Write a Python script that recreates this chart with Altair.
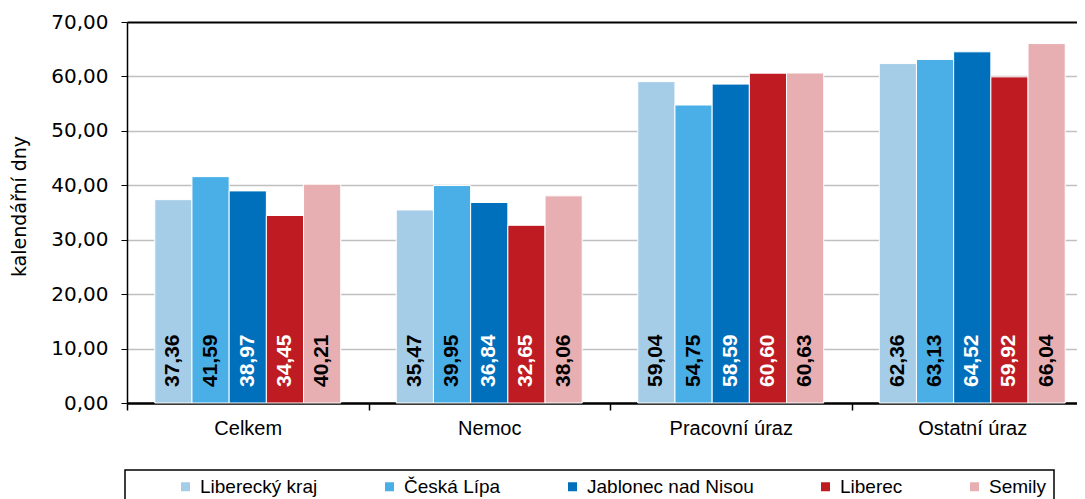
import altair as alt
import pandas as pd

categories = ["Celkem", "Nemoc", "Pracovní úraz", "Ostatní úraz"]
series = ["Liberecký kraj", "Česká Lípa", "Jablonec nad Nisou", "Liberec", "Semily"]
colors = ["#A6CDE8", "#49AFE6", "#0070BD", "#BE1B22", "#E8AFB2"]

liberecky_kraj = [37.36, 35.47, 59.04, 62.36]
ceska_lipa = [41.59, 39.95, 54.75, 63.13]
jablonec = [38.97, 36.84, 58.59, 64.52]
liberec = [34.45, 32.65, 60.60, 59.92]
semily = [40.21, 38.06, 60.63, 66.04]

y_ticks = [0, 10, 20, 30, 40, 50, 60, 70]
title_lines = [
    "Průměrná doba trvání 1 případu dočasné pracovní",
    "neschopnosti v Libereckém kraji a jeho okresech za rok 2020",
]
y_title = "kalendářní dny"
white_text = ["Jablonec nad Nisou", "Liberec"]

rows = []
for s, vals in zip(series, [liberecky_kraj, ceska_lipa, jablonec, liberec, semily]):
    for c, v in zip(categories, vals):
        rows.append({"kategorie": c, "okres": s, "hodnota": v})
df = pd.DataFrame(rows)

PLOT_W = 950          # visible plot width (page is cropped at the right)
BAND_RANGE = 966      # full category range, partly beyond the right edge
HALF_STEP = BAND_RANGE / len(categories) / 2

base = alt.Chart(df).encode(
    x=alt.X(
        "kategorie:N",
        sort=categories,
        scale=alt.Scale(range=[0, BAND_RANGE], paddingInner=0.23, paddingOuter=0.115),
        axis=alt.Axis(
            title=None, labelAngle=0, labelFont="Liberation Sans", labelFontSize=20,
            labelColor="black", labelPadding=8, tickSize=7,
            tickOffset=-HALF_STEP, labelOffset=HALF_STEP,
            tickColor="black", tickWidth=1.5, domainColor="black", domainWidth=2.5,
            grid=False,
        ),
    ),
    xOffset=alt.XOffset("okres:N", sort=series, scale=alt.Scale(paddingInner=0, paddingOuter=0)),
)

bars = base.mark_bar(stroke="white", strokeWidth=1).encode(
    y=alt.Y(
        "hodnota:Q",
        scale=alt.Scale(domain=[0, 70], nice=False),
        axis=alt.Axis(
            values=y_ticks,
            labelExpr="replace(format(datum.value, '.2f'), '.', ',')",
            labelFont="DejaVu Sans", labelFontSize=20, labelColor="black", labelPadding=13,
            tickSize=6, tickColor="black", tickWidth=1,
            domainColor="black", domainWidth=1.5,
            grid=True,
            gridColor={"condition": {"test": "datum.value >= 70", "value": "#000000"}, "value": "#C0C0C0"},
            gridWidth={"condition": {"test": "datum.value >= 70", "value": 2}, "value": 1.5},
            title=y_title, titleFont="DejaVu Sans", titleFontSize=19, titleFontWeight="normal",
            titleColor="black", titleAngle=270, titleX=-108, titleY=184,
            titleAlign="center", titleBaseline="middle",
        ),
    ),
    color=alt.Color(
        "okres:N",
        sort=series,
        scale=alt.Scale(domain=series, range=colors),
        legend=alt.Legend(
            orient="none", legendX=-2, legendY=448, direction="horizontal", columns=5,
            title=" ", titleOrient="left", titlePadding=44,
            symbolType="square", symbolSize=81, symbolStrokeWidth=0,
            labelFont="Liberation Sans", labelFontSize=19, labelColor="black",
            labelOffset=5, labelLimit=300, columnPadding=62, padding=7,
            strokeColor="black",
        ),
    ),
)

labels = base.mark_text(
    angle=270, align="left", baseline="middle", dx=16,
    font="Liberation Sans", fontSize=21, fontWeight="bold",
).encode(
    y=alt.datum(0),
    text="popis:N",
    color=alt.condition(
        alt.FieldOneOfPredicate(field="okres", oneOf=white_text),
        alt.value("white"), alt.value("black"),
    ),
).transform_calculate(popis="replace(format(datum.hodnota, '.2f'), '.', ',')")

chart = alt.layer(bars, labels).properties(
    width=PLOT_W,
    height=381,
    autosize=alt.AutoSizeParams(type="none"),
    padding={"left": 119, "top": 14, "right": 0, "bottom": 96},
    title=alt.TitleParams(
        text=title_lines, anchor="middle", fontSize=19, font="Liberation Sans",
        fontWeight="bold", color="black", baseline="bottom", offset=20, dx=-55,
    ),
).configure_view(stroke=None).configure_legend(strokeWidth=1.5)

chart.save("out.html", embed_options={"renderer": "svg", "actions": False})
